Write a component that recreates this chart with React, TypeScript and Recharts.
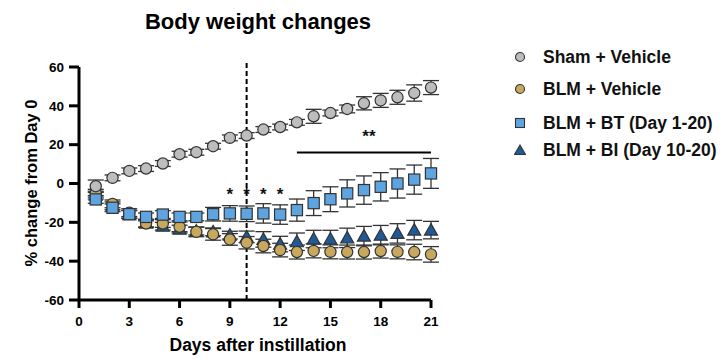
import React from "react";
import {
  ComposedChart,
  Scatter,
  XAxis,
  YAxis,
  ErrorBar,
  ReferenceLine,
} from "recharts";

const days = [1, 2, 3, 4, 5, 6, 7, 8, 9, 10, 11, 12, 13, 14, 15, 16, 17, 18, 19, 20, 21];

const shamMean = [-1.4, 2.9, 6.5, 7.7, 10.3, 15.1, 16.1, 19.2, 23.5, 24.7, 27.8, 29.1, 31.5, 34.6, 36.3, 38.4, 41.3, 42.8, 44.4, 46.6, 49.4];
const shamErr = [3.2, 1.5, 1.5, 1.5, 1.5, 1.5, 1.5, 1.5, 1.5, 1.5, 1.5, 1.5, 1.5, 3.6, 1.5, 2, 3.4, 3.6, 3.6, 4.2, 3.6];

const vehMean = [-5, -10.5, -15, -20.6, -20.6, -22.3, -24.9, -26.2, -28.8, -30.5, -32.2, -34.3, -35.3, -34.7, -35.2, -35.3, -35.3, -34.8, -35.2, -35.3, -36.5];
const vehErr = [2, 2, 2, 2, 2, 2.5, 2.5, 3, 3, 3.2, 3.5, 3.5, 3.6, 3.6, 3.6, 3.6, 3.6, 3.6, 3.6, 4, 4];

const btMean = [-8.2, -12.5, -15.8, -17.2, -16, -17.2, -17.2, -15.8, -15.4, -15.6, -15.4, -16, -13.7, -10.1, -8.1, -5.1, -3.4, -1.7, 0, 2, 5.2];
const btErr = [2, 2, 2, 2, 2, 2, 2, 3.5, 4, 4, 5, 5, 5.7, 6.4, 6.4, 7, 7.3, 7.3, 7.5, 7.5, 7.7];

const biMean = [-6, -11.5, -16, -20.4, -22, -23.5, -24.5, -24.9, -26.6, -27.5, -28.8, -31.2, -30, -28.6, -28.6, -28, -27.1, -26.6, -25.7, -24, -24];
const biErr = [2, 2, 2, 2, 2, 2, 2, 2, 2, 3, 4, 4, 4.5, 4.5, 4.5, 5, 5, 5, 5, 5, 4.5];

const starDays = [9, 10, 11, 12];
const starValue = -4;
const sigDay = 17.3;
const sigValue = 26;
const sigLineStart = 13;
const sigLineEnd = 21;
const sigLineValue = 16;
const markerDay = 10;

const xTicks = [0, 3, 6, 9, 12, 15, 18, 21];
const yTicks = [-60, -40, -20, 0, 20, 40, 60];

const seriesNames = ["Sham + Vehicle", "BLM + Vehicle", "BLM + BT (Day 1-20)", "BLM + BI (Day 10-20)"];

const build = (mean: number[], err: number[]) =>
  days.map((d, i) => ({ day: d, value: mean[i], err: err[i] }));

const shamData = build(shamMean, shamErr);
const vehData = build(vehMean, vehErr);
const btData = build(btMean, btErr);
const biData = build(biMean, biErr);
const starData = starDays.map((d) => ({ day: d, value: starValue }));
const sigData = [{ day: sigDay, value: sigValue }];

const FONT = '"Liberation Sans", Arial, sans-serif';
const STROKE = "#333333";
const C_SHAM = "#BDBDBD";
const C_VEH = "#C8A85C";
const C_BT = "#5DA4E0";
const C_BI = "#1F5A97";

const circleShape = (fill: string) => (p: any) =>
  p.cx == null ? <g /> : <circle cx={p.cx} cy={p.cy} r={5.6} fill={fill} stroke={STROKE} strokeWidth={1.2} />;
const squareShape = (fill: string) => (p: any) =>
  p.cx == null ? <g /> : <rect x={p.cx - 5.6} y={p.cy - 5.6} width={11.2} height={11.2} fill={fill} stroke={STROKE} strokeWidth={1.2} />;
const triangleShape = (fill: string) => (p: any) =>
  p.cx == null ? (
    <g />
  ) : (
    <polygon
      points={`${p.cx},${p.cy - 6.5} ${p.cx + 6.5},${p.cy + 5} ${p.cx - 6.5},${p.cy + 5}`}
      fill={fill}
      stroke={STROKE}
      strokeWidth={1.2}
    />
  );
const textShape = (label: string) => (p: any) =>
  p.cx == null ? (
    <g />
  ) : (
    <text x={p.cx} y={p.cy + 9} textAnchor="middle" fontFamily={FONT} fontWeight="bold" fontSize={17} fill="#111">
      {label}
    </text>
  );

const legendItems = [
  { name: seriesNames[0], kind: "circle", color: C_SHAM, top: 56.5 },
  { name: seriesNames[1], kind: "circle", color: C_VEH, top: 88.5 },
  { name: seriesNames[2], kind: "square", color: C_BT, top: 122.5 },
  { name: seriesNames[3], kind: "triangle", color: C_BI, top: 150 },
];

const LegendMarker = ({ kind, color }: { kind: string; color: string }) => (
  <svg width={12} height={12} style={{ position: "absolute", left: 514, top: -6 }}>
    {kind === "circle" && <circle cx={6} cy={6} r={4.5} fill={color} stroke={STROKE} strokeWidth={1.1} />}
    {kind === "square" && <rect x={1.5} y={1.5} width={9} height={9} fill={color} stroke={STROKE} strokeWidth={1.1} />}
    {kind === "triangle" && <polygon points="6,1 11.5,10.5 0.5,10.5" fill={color} stroke={STROKE} strokeWidth={1.1} />}
  </svg>
);

export default function App() {
  return (
    <div style={{ position: "absolute", left: 0, top: 0, width: 722, height: 359, background: "#fff", fontFamily: FONT }}>
      <ComposedChart width={722} height={359} margin={{ top: 67, right: 291, bottom: 0, left: 0 }}>
        <XAxis
          type="number"
          dataKey="day"
          domain={[0, 21]}
          ticks={xTicks}
          interval={0}
          height={59}
          axisLine={{ stroke: "#000", strokeWidth: 3 }}
          tickLine={{ stroke: "#000", strokeWidth: 3 }}
          tickSize={8}
          tickMargin={8}
          tick={{ fill: "#000", fontSize: 13.5, fontWeight: "bold", fontFamily: FONT }}
        />
        <YAxis
          type="number"
          dataKey="value"
          domain={[-60, 60]}
          ticks={yTicks}
          interval={0}
          width={79}
          axisLine={{ stroke: "#000", strokeWidth: 3 }}
          tickLine={{ stroke: "#000", strokeWidth: 3 }}
          tickSize={10}
          tickMargin={5}
          tick={{ fill: "#000", fontSize: 13.5, fontWeight: "bold", fontFamily: FONT }}
        />
        <ReferenceLine
          segment={[
            { x: markerDay, y: -60 },
            { x: markerDay, y: 63.5 },
          ]}
          ifOverflow="visible"
          stroke="#000"
          strokeWidth={2}
          strokeDasharray="5 3"
        />
        <ReferenceLine
          segment={[
            { x: sigLineStart, y: sigLineValue },
            { x: sigLineEnd, y: sigLineValue },
          ]}
          ifOverflow="visible"
          stroke="#000"
          strokeWidth={2}
        />
        <Scatter name={seriesNames[3]} data={biData} shape={triangleShape(C_BI)} isAnimationActive={false}>
          <ErrorBar dataKey="err" direction="y" width={8} stroke={STROKE} strokeWidth={1.3} />
        </Scatter>
        <Scatter name={seriesNames[1]} data={vehData} shape={circleShape(C_VEH)} isAnimationActive={false}>
          <ErrorBar dataKey="err" direction="y" width={8} stroke={STROKE} strokeWidth={1.3} />
        </Scatter>
        <Scatter name={seriesNames[2]} data={btData} shape={squareShape(C_BT)} isAnimationActive={false}>
          <ErrorBar dataKey="err" direction="y" width={8} stroke={STROKE} strokeWidth={1.3} />
        </Scatter>
        <Scatter name={seriesNames[0]} data={shamData} shape={circleShape(C_SHAM)} isAnimationActive={false}>
          <ErrorBar dataKey="err" direction="y" width={8} stroke={STROKE} strokeWidth={1.3} />
        </Scatter>
        <Scatter name="stars" data={starData} shape={textShape("*")} isAnimationActive={false} legendType="none" />
        <Scatter name="sig" data={sigData} shape={textShape("**")} isAnimationActive={false} legendType="none" />
      </ComposedChart>

      <div
        style={{
          position: "absolute",
          left: 0,
          width: 516,
          top: 8,
          textAlign: "center",
          fontWeight: "bold",
          fontSize: 22,
          color: "#000",
          lineHeight: "28px",
        }}
      >
        Body weight changes
      </div>

      <div
        style={{
          position: "absolute",
          left: 79,
          width: 358,
          top: 334,
          textAlign: "center",
          fontWeight: "bold",
          fontSize: 17.5,
          color: "#000",
          lineHeight: "22px",
        }}
      >
        Days after instillation
      </div>

      <div
        style={{
          position: "absolute",
          left: 31 - 100,
          top: 183 - 11,
          width: 200,
          height: 22,
          lineHeight: "22px",
          textAlign: "center",
          fontWeight: "bold",
          fontSize: 16.5,
          color: "#000",
          transform: "rotate(-90deg)",
          transformOrigin: "100px 11px",
          whiteSpace: "nowrap",
        }}
      >
        % change from Day 0
      </div>

      {legendItems.map((it) => (
        <div key={it.name} style={{ position: "absolute", left: 0, top: it.top, height: 0 }}>
          <LegendMarker kind={it.kind} color={it.color} />
          <div
            style={{
              position: "absolute",
              left: 543,
              top: -11,
              lineHeight: "22px",
              fontWeight: "bold",
              fontSize: 17.5,
              color: "#111",
              whiteSpace: "nowrap",
            }}
          >
            {it.name}
          </div>
        </div>
      ))}
    </div>
  );
}
